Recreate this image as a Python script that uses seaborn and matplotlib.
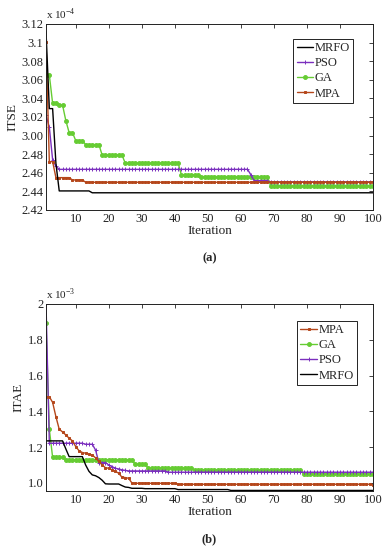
import numpy as np
import pandas as pd
import seaborn as sns
import matplotlib
matplotlib.use("Agg")
import matplotlib.pyplot as plt

# ---------------- data ----------------
iterations = np.arange(1, 101)

# (a) ITSE (x1e-4) -- values in the axis' own (broken) scale, stored as plateau values + run lengths
itse_mrfo_vals = [2.612, 2.529, 2.470, 2.4405, 2.4385]
itse_mrfo_runs = [1, 2, 1, 10, 86]
itse_pso_vals = [2.522, 2.509, 2.474, 2.467, 2.4637, 2.458, 2.4515, 2.4503]
itse_pso_runs = [1, 1, 1, 1, 58, 1, 5, 32]
itse_ga_vals = [2.5652, 2.5347, 2.5329, 2.5161, 2.5032, 2.4946, 2.4903, 2.4791, 2.4702, 2.4577, 2.4559, 2.4462]
itse_ga_runs = [2, 2, 2, 1, 2, 3, 5, 7, 17, 6, 21, 32]
itse_mpa_vals = [2.601, 2.472, 2.4548, 2.4523, 2.4498]
itse_mpa_runs = [1, 2, 5, 4, 88]
itse_ticks = [2.42, 2.44, 2.46, 2.48, 2.50, 2.52, 2.54, 2.56, 2.58, 2.60, 2.62]
itse_ticklabels = ["2.42", "2.44", "2.46", "2.48", "3.00", "3.02", "3.04", "3.06", "3.08", "3.1", "3.12"]

# (b) ITAE (x1e-3)
itae_mrfo_vals = [1.235, 1.19, 1.147, 1.10, 1.065, 1.045, 1.04, 1.03, 1.015, 0.995, 0.994,
                  0.985, 0.977, 0.975, 0.97, 0.968, 0.963, 0.958]
itae_mrfo_runs = [6, 1, 5, 1, 1, 1, 1, 1, 1, 1, 4, 1, 1, 1, 4, 10, 16, 44]
itae_mpa_vals = [1.482, 1.45, 1.37, 1.30, 1.285, 1.268, 1.25, 1.235, 1.203, 1.18, 1.17, 1.166,
                 1.16, 1.156, 1.14, 1.12, 1.10, 1.085, 1.082, 1.073, 1.065, 1.054, 1.032, 1.03,
                 1.026, 1.00, 0.998, 0.9926, 0.99]
itae_mpa_runs = [2] + [1] * 25 + [13, 59, 1]
itae_ga_vals = [1.892, 1.30, 1.143, 1.13, 1.104, 1.082, 1.0726, 1.05]
itae_ga_runs = [1, 1, 4, 21, 4, 14, 33, 22]
itae_pso_vals = [2.0, 1.222, 1.216, 1.184, 1.114, 1.10, 1.091, 1.082, 1.078, 1.073, 1.07, 1.067, 1.06]
itae_pso_runs = [1, 11, 3, 1, 3, 1, 1, 1, 1, 1, 1, 12, 63]
itae_ticks = [1.0, 1.2, 1.4, 1.6, 1.8, 2.0]
itae_ticklabels = ["1.0", "1.2", "1.4", "1.6", "1.8", "2"]

x_ticks = [10, 20, 30, 40, 50, 60, 70, 80, 90, 100]

colors = {"MRFO": "black", "PSO": "#7B2FBE", "GA": "#66CC33", "MPA": "#B5471B"}
markers = {"MRFO": None, "PSO": "+", "GA": "o", "MPA": "s"}
msizes = {"MRFO": 0, "PSO": 3.5, "GA": 2.8, "MPA": 2.0}

# ---------------- style ----------------
sns.set_theme(style="white")
plt.rcParams["font.family"] = ["Liberation Serif", "DejaVu Serif"]
plt.rcParams["mathtext.fontset"] = "custom"
plt.rcParams["mathtext.rm"] = "Liberation Serif"

fig = plt.figure(figsize=(3.89, 5.50), dpi=100)
ax1 = fig.add_axes([0.1183, 0.6182, 0.8406, 0.3382])
ax2 = fig.add_axes([0.1183, 0.1073, 0.8406, 0.3400])


def draw(ax, series, order):
    for name in ["GA", "PSO", "MPA", "MRFO"]:
        vals, runs = series[name]
        y = np.repeat(vals, runs)
        kw = dict(color=colors[name], linewidth=1.0, label=name)
        if markers[name]:
            kw.update(marker=markers[name], markersize=msizes[name],
                      markeredgecolor=colors[name], markerfacecolor=colors[name],
                      markeredgewidth=0.7)
        sns.lineplot(x=iterations, y=y, ax=ax, **kw)
    h, l = ax.get_legend_handles_labels()
    d = dict(zip(l, h))
    leg = ax.legend([d[n] for n in order], order, fontsize=9, frameon=True,
                    fancybox=False, framealpha=1, edgecolor="black",
                    handlelength=1.3, handletextpad=0.15, borderpad=0.25,
                    labelspacing=0.25, borderaxespad=0, loc="upper right")
    leg.get_frame().set_linewidth(0.6)
    return leg


leg1 = draw(ax1, {"MRFO": (itse_mrfo_vals, itse_mrfo_runs), "PSO": (itse_pso_vals, itse_pso_runs),
                  "GA": (itse_ga_vals, itse_ga_runs), "MPA": (itse_mpa_vals, itse_mpa_runs)},
            ["MRFO", "PSO", "GA", "MPA"])
leg1.set_bbox_to_anchor((0.939, 0.919), transform=ax1.transAxes)

leg2 = draw(ax2, {"MRFO": (itae_mrfo_vals, itae_mrfo_runs), "PSO": (itae_pso_vals, itae_pso_runs),
                  "GA": (itae_ga_vals, itae_ga_runs), "MPA": (itae_mpa_vals, itae_mpa_runs)},
            ["MPA", "GA", "PSO", "MRFO"])
leg2.set_bbox_to_anchor((0.951, 0.909), transform=ax2.transAxes)

for ax in (ax1, ax2):
    ax.set_xlim(1, 100)
    ax.set_xticks(x_ticks)
    ax.tick_params(direction="in", top=True, right=True, length=3, width=0.6,
                   labelsize=9, pad=2, colors="#222222", labelcolor="#222222")
    for s in ax.spines.values():
        s.set_color("#222222")
        s.set_linewidth(0.7)
    ax.set_xlabel("Iteration", fontsize=9.5, labelpad=0, color="#222222")

ax1.set_ylim(2.42, 2.62)
ax1.set_yticks(itse_ticks)
ax1.set_yticklabels(itse_ticklabels)
ax1.set_ylabel("ITSE", fontsize=9.5, labelpad=2, color="#222222")
ax1.text(0.0, 1.01, r"x 10$^{-4}$", transform=ax1.transAxes, ha="left", va="bottom",
         fontsize=8, color="#222222")

ax2.set_ylim(0.955, 2.0)
ax2.set_yticks(itae_ticks)
ax2.set_yticklabels(itae_ticklabels)
ax2.set_ylabel("ITAE", fontsize=9.5, labelpad=2, color="#222222")
ax2.text(0.0, 1.01, r"x 10$^{-3}$", transform=ax2.transAxes, ha="left", va="bottom",
         fontsize=8, color="#222222")

fig.text(0.5385, 0.531, "(a)", ha="center", va="center", fontsize=9, fontweight="bold")
fig.text(0.5385, 0.020, "(b)", ha="center", va="center", fontsize=9, fontweight="bold")

fig.savefig("out.png", dpi=100)
